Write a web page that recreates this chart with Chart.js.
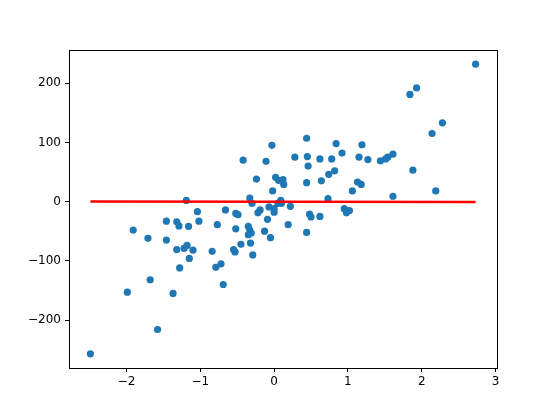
<!DOCTYPE html>
<html>
<head>
<meta charset="utf-8">
<script src="https://cdn.jsdelivr.net/npm/chart.js@4/dist/chart.umd.min.js"></script>
<style>
  html, body { margin: 0; padding: 0; background: #fff; }
  #chart { display: block; }
</style>
</head>
<body>
<canvas id="chart" width="552" height="414"></canvas>
<script>
// scatter points
const xs = [
  2.73, 1.93, 1.84, 2.28, 2.14, 1.19, 0.84, 0.92, 1.15, 1.27,
  1.44, 1.51, 1.54, 1.61, 1.88, 1.13, 1.18, 1.06, 1.61, 2.19,
  0.95, 0.98, 1.02, 0.62, 0.78, 0.44, 0.45, 0.46, 0.44, 0.28,
  0.64, 0.74, 0.82, 0.73, -0.03, -0.42, -0.11, -0.24, 0.02, 0.06,
  0.12, 0.13, -0.02, -0.33, -0.30, 0.09, 0.10, 0.05, 0.22, -0.07,
  0.00, 0.00, -0.19, -0.22, -0.66, -0.52, -0.49, -0.09, -0.52, -0.35,
  -0.33, -0.35, -0.31, -0.13, -0.05, 0.19, 0.48, 0.50, 0.62, 0.44,
  -0.77, -0.84, -0.55, -0.53, -0.45, -0.32, -0.29, -0.72, -0.79, -0.69,
  -1.19, -1.04, -1.46, -1.32, -1.29, -1.16, -1.02, -1.91, -1.71, -1.46,
  -1.32, -1.22, -1.18, -1.10, -1.15, -1.28, -1.68, -1.99, -1.37, -1.58,
  -2.49
];
const ys = [
  232, 192, 181, 133, 115, 96, 98, 82, 75, 71,
  69, 72, 75, 80, 53, 33, 29, 18, 9, 18,
  -12, -19, -15, 72, 72, 107, 76, 60, 32, 75,
  35, 46, 52, 5, 95, 70, 68, 38, 41, 36,
  37, 29, 18, 6, -3, 2, -3, -3, -8, -9,
  -12, -18, -14, -19, -14, -20, -22, -30, -46, -42,
  -48, -56, -53, -50, -61, -39, -21, -26, -25, -52,
  -39, -84, -81, -85, -72, -70, -90, -105, -111, -140,
  2, -17, -33, -34, -41, -42, -33, -48, -62, -65,
  -81, -79, -74, -82, -96, -112, -132, -153, -155, -216,
  -257
];

// fitted line
const lineX = [-2.49, 2.73];
const lineY = [0.3, -0.8];

const xTicks = [-2, -1, 0, 1, 2, 3];
const yTicks = [-200, -100, 0, 100, 200];

const fmt = v => String(v).replace("-", "\u2212");

const frame = {
  id: "frame",
  afterDraw(chart) {
    const { ctx, chartArea: a } = chart;
    ctx.save();
    ctx.strokeStyle = "#000";
    ctx.lineWidth = 1;
    ctx.strokeRect(Math.round(a.left) + 0.5, Math.round(a.top) + 0.5,
      Math.round(a.right - a.left), Math.round(a.bottom - a.top));
    ctx.restore();
  }
};

const tickFont = { family: "DejaVu Sans", size: 12 };

new Chart(document.getElementById("chart"), {
  type: "scatter",
  data: {
    datasets: [
      {
        type: "line",
        data: lineX.map((x, i) => ({ x: x, y: lineY[i] })),
        borderColor: "#ff0000",
        borderWidth: 2.5,
        pointRadius: 0,
        fill: false,
        order: 0
      },
      {
        data: xs.map((x, i) => ({ x: x, y: ys[i] })),
        backgroundColor: "#1f77b4",
        borderColor: "#1f77b4",
        borderWidth: 0,
        pointRadius: 3.6,
        order: 1
      }
    ]
  },
  options: {
    responsive: false,
    animation: false,
    layout: { padding: { top: 50, right: 55, left: 0, bottom: 0 } },
    plugins: { legend: { display: false }, tooltip: { enabled: false } },
    scales: {
      x: {
        type: "linear",
        min: -2.78,
        max: 3.02,
        afterBuildTicks: s => { s.ticks = xTicks.map(v => ({ value: v })); },
        afterFit: s => { s.height = 46; },
        grid: { drawOnChartArea: false, tickLength: 4, tickColor: "#000", tickWidth: 1 },
        border: { display: false },
        ticks: { color: "#000", font: tickFont, padding: 3, callback: fmt, maxRotation: 0 }
      },
      y: {
        type: "linear",
        min: -281,
        max: 256,
        afterBuildTicks: s => { s.ticks = yTicks.map(v => ({ value: v })); },
        afterFit: s => { s.width = 69; },
        grid: { drawOnChartArea: false, tickLength: 4, tickColor: "#000", tickWidth: 1 },
        border: { display: false },
        ticks: { color: "#000", font: tickFont, padding: 4, callback: fmt }
      }
    }
  },
  plugins: [frame]
});
</script>
</body>
</html>
